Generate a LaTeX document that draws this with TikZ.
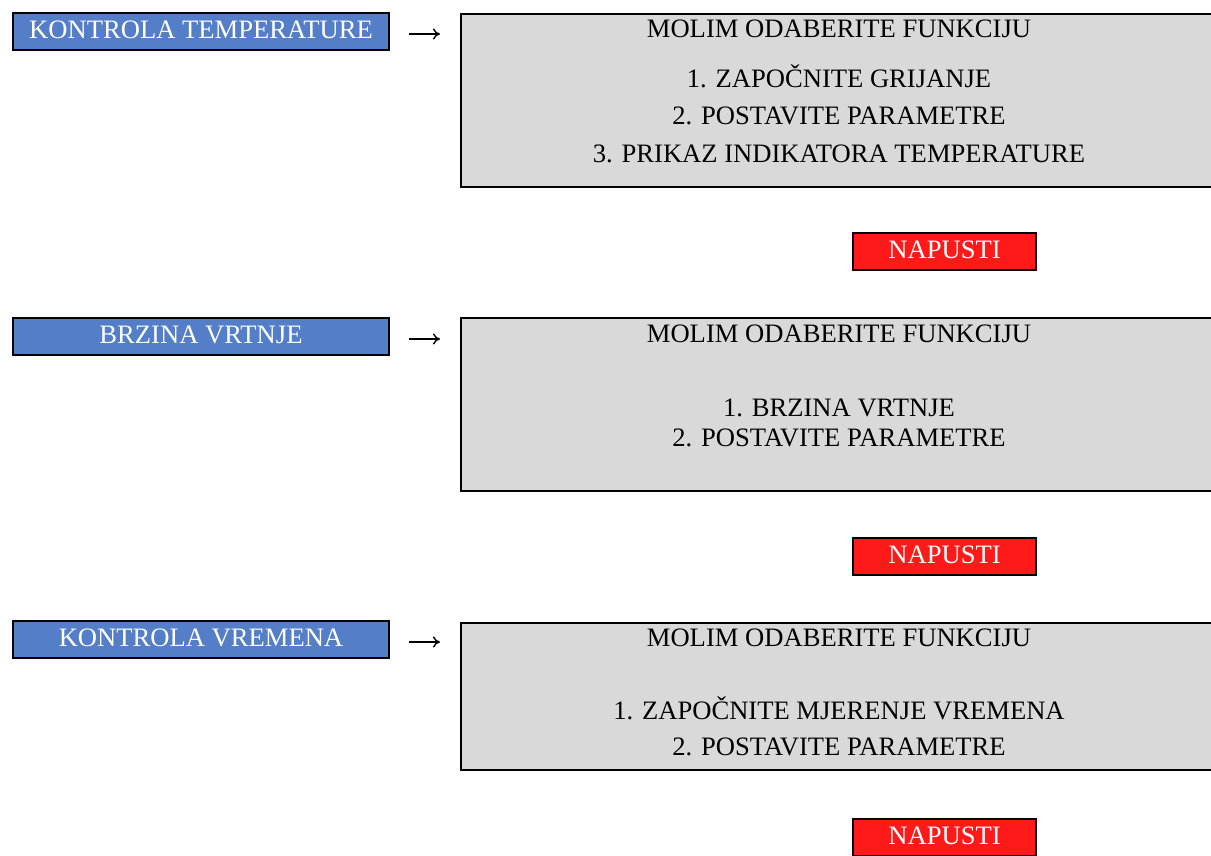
\documentclass[tikz,border=0pt]{standalone}
\usepackage{fontspec}
\setmainfont{Liberation Serif}
\usetikzlibrary{arrows.meta,calc}
\definecolor{plava}{RGB}{85,126,201}
\definecolor{siva}{RGB}{217,217,217}
\definecolor{crvena}{RGB}{255,26,26}
\begin{document}
\begin{tikzpicture}[x=1pt,y=-1pt,
	every node/.style={font=\fontsize{26.6}{31}\selectfont,inner sep=0},
	gumb/.style={rectangle,draw,line width=2pt,fill=plava,text=white,
		minimum width=376pt,minimum height=37pt,text height=18pt,text depth=4.5pt},
	izlaz/.style={gumb,fill=crvena,minimum width=183pt},
	izbornik/.style={rectangle,draw,line width=2pt,fill=siva,minimum width=759pt,anchor=north west},
	stavka/.style={anchor=base},
	strelica/.style={-{Computer Modern Rightarrow[length=7pt,width=11pt]},line width=1.4pt,
		shorten <=19pt,shorten >=20pt}]
\useasboundingbox (0,0) rectangle (1211,856);
% kontrola temperature
\node[gumb] (k1) at (201,31.5) {KONTROLA TEMPERATURE};
\node[izbornik,minimum height=173pt] (m1) at (460,13) {};
\node[stavka] at (839,37.5) {MOLIM ODABERITE FUNKCIJU};
\node[stavka] at (839,87.5) {1. ZAPOČNITE GRIJANJE};
\node[stavka] at (839,124.5) {2. POSTAVITE PARAMETRE};
\node[stavka] at (839,162.5) {3. PRIKAZ INDIKATORA TEMPERATURE};
\node[izlaz] (n1) at (944.5,251.5) {NAPUSTI};
% brzina vrtnje
\node[gumb] (k2) at (201,336.5) {BRZINA VRTNJE};
\node[izbornik,minimum height=173pt] (m2) at (460,317) {};
\node[stavka] at (839,342.5) {MOLIM ODABERITE FUNKCIJU};
\node[stavka] at (839,416.5) {1. BRZINA VRTNJE};
\node[stavka] at (839,446.5) {2. POSTAVITE PARAMETRE};
\node[izlaz] (n2) at (944.5,556.5) {NAPUSTI};
% kontrola vremena
\node[gumb] (k3) at (201,639.5) {KONTROLA VREMENA};
\node[izbornik,minimum height=147pt] (m3) at (460,622) {};
\node[stavka] at (839,646.5) {MOLIM ODABERITE FUNKCIJU};
\node[stavka] at (839,719.5) {1. ZAPOČNITE MJERENJE VREMENA};
\node[stavka] at (839,755.5) {2. POSTAVITE PARAMETRE};
\node[izlaz] (n3) at (944.5,837.5) {NAPUSTI};
\foreach \i in {1,2,3}
	\draw[strelica] ($(k\i.east)+(0,2.5)$) -- ($(k\i.east -| m\i.west)+(0,2.5)$);
\end{tikzpicture}
\end{document}
